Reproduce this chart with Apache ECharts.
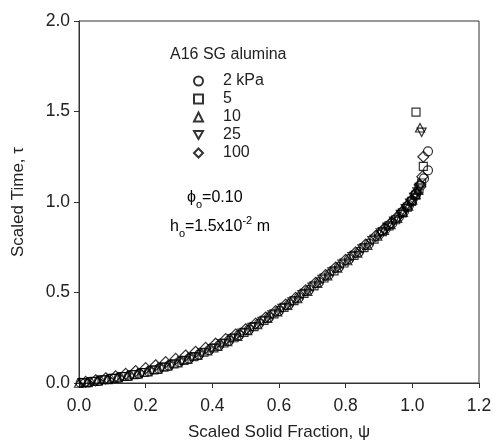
<!DOCTYPE html>
<html>
<head>
<meta charset="utf-8">
<script src="https://cdn.jsdelivr.net/npm/echarts@6/dist/echarts.min.js"></script>
<style>
  html, body { margin: 0; padding: 0; background: #fff; }
  #chart { width: 496px; height: 446px; }
</style>
</head>
<body>
<div id="chart"></div>
<script>
// Scaled solid fraction (psi) vs scaled time (tau) for each applied pressure
const pressureLabels = ['2 kPa', '5', '10', '25', '100'];

const data2kPa = [
  [0.005,0.001],[0.03,0.004],[0.06,0.012],[0.09,0.022],[0.12,0.030],[0.15,0.040],[0.18,0.051],
  [0.21,0.064],[0.24,0.079],[0.27,0.096],[0.30,0.116],[0.33,0.135],[0.36,0.157],[0.39,0.181],
  [0.42,0.207],[0.45,0.234],[0.48,0.264],[0.51,0.295],[0.54,0.328],[0.57,0.363],[0.60,0.399],
  [0.63,0.435],[0.66,0.473],[0.69,0.515],[0.72,0.557],[0.75,0.600],[0.78,0.641],[0.81,0.684],
  [0.84,0.725],[0.87,0.770],[0.90,0.819],[0.92,0.851],[0.94,0.883],[0.96,0.918],[0.975,0.948],
  [0.99,0.982],[1.00,1.008],[1.012,1.045],[1.025,1.090],[1.035,1.130],[1.047,1.175],[1.047,1.280]
];
const data5kPa = [
  [0.015,0.002],[0.045,0.009],[0.075,0.018],[0.105,0.026],[0.135,0.036],[0.165,0.046],[0.195,0.058],
  [0.225,0.072],[0.255,0.088],[0.285,0.106],[0.315,0.125],[0.345,0.146],[0.375,0.170],[0.405,0.194],
  [0.435,0.221],[0.465,0.250],[0.495,0.280],[0.525,0.312],[0.555,0.346],[0.585,0.382],[0.615,0.418],
  [0.645,0.455],[0.675,0.495],[0.705,0.537],[0.735,0.580],[0.765,0.620],[0.795,0.663],[0.825,0.705],
  [0.855,0.748],[0.885,0.795],[0.91,0.836],[0.93,0.868],[0.95,0.902],[0.97,0.940],[0.985,0.972],
  [0.998,1.003],[1.01,1.038],[1.02,1.072],[1.028,1.105],[1.033,1.197],[1.011,1.497]
];
const data10kPa = [
  [0.0,0.0],[0.025,0.003],[0.055,0.011],[0.085,0.020],[0.115,0.029],[0.145,0.038],[0.175,0.050],
  [0.205,0.062],[0.235,0.077],[0.265,0.094],[0.295,0.112],[0.325,0.132],[0.355,0.154],[0.385,0.178],
  [0.415,0.203],[0.445,0.230],[0.475,0.259],[0.505,0.291],[0.535,0.323],[0.565,0.358],[0.595,0.394],
  [0.625,0.430],[0.655,0.467],[0.685,0.508],[0.715,0.551],[0.745,0.593],[0.775,0.636],[0.805,0.677],
  [0.835,0.719],[0.865,0.762],[0.895,0.812],[0.915,0.844],[0.935,0.876],[0.955,0.910],[0.972,0.944],
  [0.988,0.978],[1.0,1.012],[1.01,1.042],[1.018,1.066],[1.023,1.41]
];
const data25kPa = [
  [0.01,0.001],[0.04,0.007],[0.07,0.016],[0.10,0.024],[0.13,0.034],[0.16,0.044],[0.19,0.056],
  [0.22,0.069],[0.25,0.086],[0.28,0.102],[0.31,0.121],[0.34,0.142],[0.37,0.165],[0.40,0.189],
  [0.43,0.216],[0.46,0.244],[0.49,0.274],[0.52,0.306],[0.55,0.340],[0.58,0.375],[0.61,0.411],
  [0.64,0.447],[0.67,0.487],[0.70,0.529],[0.73,0.572],[0.76,0.613],[0.79,0.655],[0.82,0.697],
  [0.85,0.740],[0.88,0.786],[0.905,0.828],[0.925,0.860],[0.945,0.893],[0.965,0.930],[0.98,0.962],
  [0.993,0.993],[1.005,1.025],[1.015,1.055],[1.022,1.080],[1.028,1.385]
];
const data100kPa = [
  [0.02,0.006],[0.05,0.015],[0.08,0.026],[0.11,0.037],[0.14,0.050],[0.17,0.066],[0.20,0.082],
  [0.23,0.098],[0.26,0.115],[0.29,0.133],[0.32,0.152],[0.35,0.172],[0.38,0.194],[0.41,0.217],
  [0.44,0.242],[0.47,0.268],[0.50,0.297],[0.53,0.328],[0.56,0.362],[0.59,0.397],[0.62,0.433],
  [0.65,0.470],[0.68,0.512],[0.71,0.554],[0.74,0.596],[0.77,0.638],[0.80,0.680],[0.83,0.722],
  [0.86,0.765],[0.89,0.812],[0.915,0.852],[0.935,0.884],[0.955,0.918],[0.97,0.948],[0.985,0.980],
  [0.998,1.012],[1.01,1.048],[1.022,1.095],[1.03,1.140],[1.033,1.250]
];

const seriesData = [data2kPa, data5kPa, data10kPa, data25kPa, data100kPa];
// down-pointing triangle drawn as a path so it also shows correctly in the legend
const DOWN_TRIANGLE = 'path://M0,0L2,0L1,1.8Z';
const symbols = ['circle', 'rect', 'triangle', DOWN_TRIANGLE, 'diamond'];
const symbolSizes = [9, 8, [9, 8.5], [9, 8.5], 11];

const FONT = 'Liberation Sans, Arial, sans-serif';
const INK = '#222';

const chart = echarts.init(document.getElementById('chart'), null, { renderer: 'canvas' });

const series = seriesData.map((d, i) => ({
  name: pressureLabels[i],
  type: 'scatter',
  data: d,
  symbol: symbols[i],
  symbolSize: symbolSizes[i],
  itemStyle: { color: 'rgba(0,0,0,0)', borderColor: '#000', borderWidth: 1.2 },
  emphasis: { disabled: true },
  silent: true
}));

const richSub = {
  b: { fontFamily: FONT, fontSize: 16, color: INK, verticalAlign: 'bottom' },
  s: { fontFamily: FONT, fontSize: 11, color: INK, padding: [0, 0, -4, 0], verticalAlign: 'bottom' },
  p: { fontFamily: FONT, fontSize: 11, color: INK, padding: [0, 0, 9, 0], verticalAlign: 'bottom' }
};

chart.setOption({
  animation: false,
  backgroundColor: '#fff',
  grid: {
    left: 79, right: 17, top: 21, bottom: 59,
    show: true, borderColor: '#333', borderWidth: 1, backgroundColor: 'transparent'
  },
  legend: {
    orient: 'vertical',
    left: 188, top: 68,
    itemWidth: 9, itemHeight: 9, itemGap: 2,
    data: pressureLabels,
    textStyle: { fontFamily: FONT, fontSize: 16, color: INK, padding: [0, 0, 0, 15] },
    selectedMode: false
  },
  xAxis: {
    type: 'value', min: 0, max: 1.2, interval: 0.2,
    name: 'Scaled Solid Fraction, \u03c8',
    nameLocation: 'middle', nameGap: 41,
    nameTextStyle: { fontFamily: FONT, fontSize: 17, color: INK },
    axisLine: { show: true, onZero: false, lineStyle: { color: '#333', width: 1 } },
    axisTick: { show: true, inside: false, length: 5, lineStyle: { color: '#333' } },
    axisLabel: { fontFamily: FONT, fontSize: 17.5, color: INK, margin: 14,
      formatter: v => v.toFixed(1) },
    splitLine: { show: false }
  },
  yAxis: {
    type: 'value', min: 0, max: 2, interval: 0.5,
    name: 'Scaled Time, \u03c4',
    nameLocation: 'middle', nameGap: 52,
    nameTextStyle: { fontFamily: FONT, fontSize: 17, color: INK },
    axisLine: { show: true, onZero: false, lineStyle: { color: '#333', width: 1 } },
    axisTick: { show: true, inside: false, length: 5, lineStyle: { color: '#333' } },
    axisLabel: { fontFamily: FONT, fontSize: 17.5, color: INK, margin: 9,
      formatter: v => v.toFixed(1) },
    splitLine: { show: false }
  },
  graphic: [
    {
      type: 'text', left: 170, top: 47,
      style: { text: 'A16 SG alumina', fontFamily: FONT, fontSize: 16, fill: INK }
    },
    {
      type: 'text', left: 187, top: 190,
      style: { text: '{b|\u03d5}{s|o}{b|=0.10}', rich: richSub }
    },
    {
      type: 'text', left: 170, top: 215,
      style: { text: '{b|h}{s|o}{b|=1.5x10}{p|-2}{b| m}', rich: richSub }
    }
  ],
  series: series
});
</script>
</body>
</html>
